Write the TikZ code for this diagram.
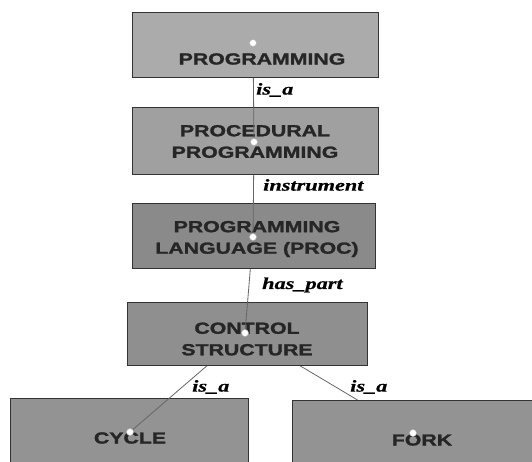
\documentclass[tikz,border=0pt]{standalone}
\usepackage{fontspec}
\setmainfont{Liberation Sans}
\newfontfamily\boxfont[FakeStretch=1.33,FakeBold=1.6]{Liberation Sans}
\newfontfamily\labfont[FakeStretch=1.35,FakeBold=0.6]{Liberation Serif}
\usetikzlibrary{calc}
\definecolor{shadeA}{HTML}{ABABAB}
\definecolor{shadeB}{HTML}{A0A0A0}
\definecolor{shadeC}{HTML}{8A8A8A}
\definecolor{shadeD}{HTML}{8F8F8F}
\definecolor{shadeE}{HTML}{939393}
\tikzset{
  box/.style={draw=black!80, line width=0.9pt, inner sep=0pt},
  boxtext/.style={font=\boxfont\bfseries\fontsize{16}{21.5}\selectfont, align=center, text=black!85, inner sep=0pt},
  rel/.style={font=\labfont\bfseries\itshape\fontsize{16.5}{18}\selectfont, anchor=west, inner sep=0pt, text=black},
  conn/.style={draw=black!60, line width=0.8pt},
  dot/.style={circle, fill=white, draw=black!30, line width=0.5pt, minimum size=7pt, inner sep=0pt},
}
\begin{document}
\begin{tikzpicture}[x=1pt,y=-1pt]
\clip (0,0) rectangle (532,461);
\fill[white] (0,0) rectangle (532,461);
% anchor points
\coordinate (p1) at (253,43);
\coordinate (p2) at (254,142);
\coordinate (p3) at (253,237);
\coordinate (p4) at (245,333);
\coordinate (p5) at (130,432);
\coordinate (p6) at (413,433);
% bottom boxes
\node[box, fill=shadeE, minimum width=238pt, minimum height=90pt] (cyc) at (129,443) {};
\node[boxtext] (cyct) at (130,438) {CYCLE};
\node[box, fill=shadeE, minimum width=250pt, minimum height=90pt] (fork) at (417,445) {};
\node[boxtext] (forkt) at (422,440) {FORK};
% connectors from control structure
\draw[conn] (p4) -- (p5);
\draw[conn] (p4) -- ($(p4)!0.67!(p6)$);
% control structure
\node[box, fill=shadeD, minimum width=240pt, minimum height=63pt] (ctl) at (247,333.5) {};
\node[boxtext] (ctlt) at (247,339) {CONTROL\\STRUCTURE};
\draw[conn] (p3) -- (p4);
% programming language
\node[box, fill=shadeC, minimum width=243pt, minimum height=65pt] (lang) at (253.5,235.5) {};
\node[boxtext] (langt) at (257,239) {PROGRAMMING\\LANGUAGE (PROC)};
\draw[conn] (p2) -- (p3);
% procedural programming
\node[box, fill=shadeB, minimum width=246pt, minimum height=67pt] (proc) at (255,140.5) {};
\node[boxtext] (proct) at (255,141.5) {PROCEDURAL\\PROGRAMMING};
\draw[conn] (p1) -- (p2);
% programming
\node[box, fill=shadeA, minimum width=246pt, minimum height=65pt] (prog) at (255,44.5) {};
\node[boxtext] (progt) at (262,59) {PROGRAMMING};
% dots
\node[dot] (d1) at (p1) {};
\node[dot] (d2) at (p2) {};
\node[dot] (d3) at (p3) {};
\node[dot] (d4) at (p4) {};
\node[dot] (d5) at (p5) {};
\node[dot] (d6) at (p6) {};
% relation labels
\node[rel] (l1) at (256,90) {is\_a};
\node[rel] (l2) at (263,185) {instrument};
\node[rel] (l3) at (262,285) {has\_part};
\node[rel] (l4) at (192,387) {is\_a};
\node[rel] (l5) at (350,387) {is\_a};
\end{tikzpicture}
\end{document}
